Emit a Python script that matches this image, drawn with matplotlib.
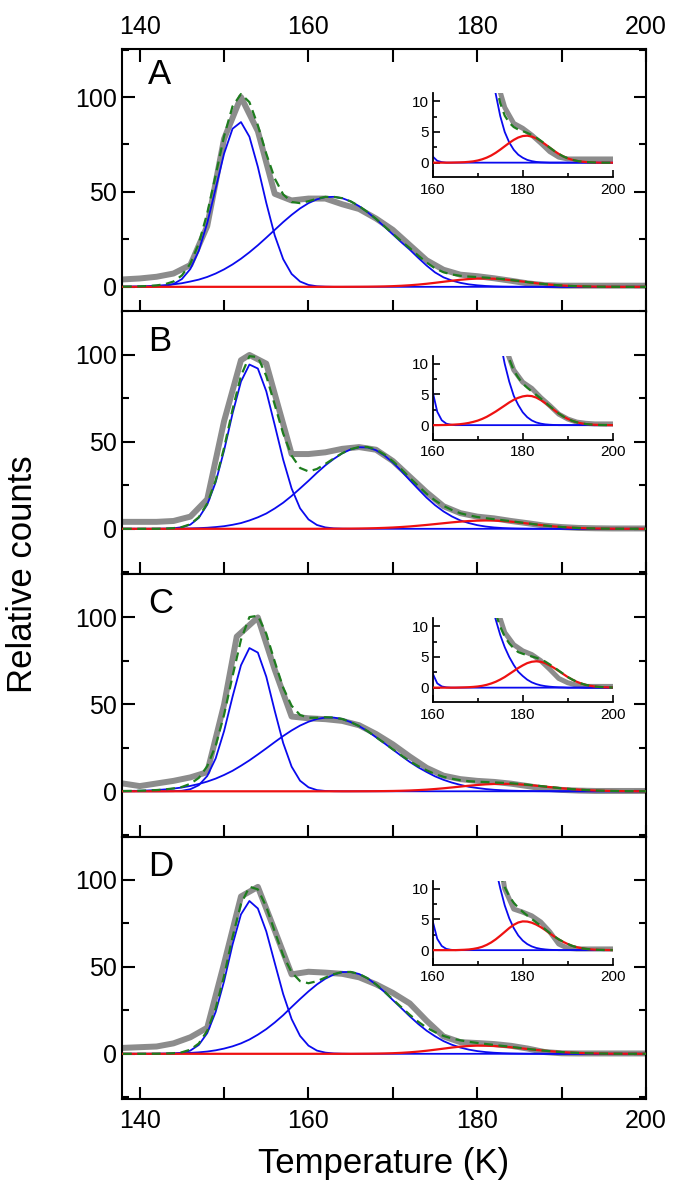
import numpy as np
import matplotlib
matplotlib.use('Agg')
import matplotlib.pyplot as plt
from matplotlib.ticker import MultipleLocator, FuncFormatter

plt.rcParams['font.family'] = ['Liberation Sans', 'DejaVu Sans']

# common temperature grid for the fitted components (K)
T = np.arange(138, 201)

# ---------------- panel A ----------------
tA = [138, 140, 142, 144, 146, 148, 150, 152, 154, 156, 158, 160, 162, 164, 166, 168,
      170, 172, 174, 176, 178, 180, 182, 184, 186, 188, 190, 192, 194, 196, 198, 200]
dataA = [3.9, 4.4, 5.3, 7.0, 11.5, 32, 78, 100, 82, 49, 45.5, 46.5, 46.5, 43.5, 41, 36,
         30, 22, 14, 9, 6.4, 5.6, 4.5, 3.2, 1.8, 0.9, 0.6, 0.6, 0.6, 0.6, 0.6, 0.6]
peak1A = [0, 0, 0, 0.04, 0.16, 0.5, 1.5, 4.1, 9.4, 19.0, 33.6, 51.8, 70.2, 83.3, 86.8, 79.1,
          63.2, 44.2, 27.1, 14.6, 6.8, 2.8, 1.0, 0.3, 0.09] + [0.0] * 38
peak2A = [0.1, 0.16, 0.25, 0.4, 0.6, 0.9, 1.3, 1.9, 2.8, 3.8, 5.2, 7.0, 9.2, 11.8, 14.8, 18.2,
          21.9, 25.9, 30.0, 34.1, 37.9, 41.3, 44.1, 46.1, 47.3, 47.4, 46.7, 45.0, 42.5, 39.3,
          35.7, 31.7, 27.6, 23.5, 19.6, 15.3, 11.2, 7.6, 5.0, 3.3, 2.1, 1.3, 0.8, 0.45, 0.25,
          0.12, 0.06, 0.03] + [0.0] * 15
peak3A = [0.0] * 27 + [0.02, 0.04, 0.07, 0.13, 0.21, 0.35, 0.55, 0.82, 1.17, 1.61, 2.12, 2.67,
                       3.22, 3.71, 4.10, 4.34, 4.40, 4.26, 3.96, 3.52, 3.0, 2.45, 1.91, 1.43,
                       1.02, 0.70, 0.46, 0.29, 0.18, 0.10, 0.06, 0.03, 0.01] + [0.0] * 3

# ---------------- panel B ----------------
tB = [138, 140, 142, 144, 146, 148, 150, 152, 153, 155, 158, 160, 162, 164, 166, 168,
      170, 172, 174, 176, 178, 180, 182, 184, 186, 188, 190, 192, 194, 196, 198, 200]
dataB = [4, 4, 4, 4.5, 7, 17, 62, 97, 100, 95, 43, 43, 44, 46, 47, 45.5,
         39, 30, 21, 13, 9, 7, 6, 4.5, 3.2, 1.8, 1.0, 0.5, 0.3, 0.2, 0.2, 0.2]
peak1B = [0.0] * 5 + [0.07, 0.3, 0.9, 2.4, 6.3, 13.9, 26.8, 45.1, 66.3, 84.7, 94.5, 92.2, 79.1,
                      59.7, 39.8, 23.2, 11.8, 5.4, 2.2, 0.8, 0.25, 0.07] + [0.0] * 36
peak2B = [0.0, 0.0, 0.0, 0.01, 0.02, 0.04, 0.07, 0.12, 0.22, 0.38, 0.62, 1.0, 1.5, 2.3, 3.3,
          4.8, 6.6, 8.8, 11.7, 15.0, 18.9, 23.2, 27.6, 32.2, 36.5, 40.2, 43.4, 45.7, 46.9,
          46.8, 45.2, 42.2, 38.1, 33.3, 28.0, 22.9, 17.9, 13.6, 10.0, 7.1, 4.8, 3.3, 2.1, 1.3,
          0.77, 0.44, 0.25, 0.13, 0.07, 0.03] + [0.0] * 13
peak3B = [0.0] * 24 + [0.02, 0.03, 0.06, 0.1, 0.15, 0.24, 0.36, 0.53, 0.74, 1.02, 1.36, 1.78,
                       2.22, 2.71, 3.2, 3.7, 4.13, 4.46, 4.69, 4.8, 4.74, 4.5, 4.1, 3.6, 3.03,
                       2.45, 1.9, 1.42, 1.02, 0.7, 0.47, 0.3, 0.18, 0.11, 0.06, 0.03, 0.02,
                       0.01, 0.0]

# ---------------- panel C ----------------
tC = [138, 140, 142, 144, 146, 148, 150, 151.5, 154, 156, 158, 160, 162, 164, 166, 168,
      170, 172, 174, 176, 178, 180, 182, 184, 186, 188, 190, 192, 194, 196, 198, 200]
dataC = [4.5, 3, 4.5, 6, 8, 11, 50, 89, 100, 70, 43, 42, 41.5, 40.5, 38, 33,
         27, 20, 13.5, 9, 7, 6, 5.4, 4.4, 3, 1.5, 0.8, 0.4, 0.2, 0.2, 0.2, 0.2]
peak1C = [0.0] * 5 + [0.02, 0.08, 0.3, 1.2, 3.5, 8.8, 18.9, 34.7, 54.4, 72.5, 82.4, 79.8, 65.9,
                      46.3, 27.8, 14.2, 6.1, 2.3, 0.7, 0.2, 0.05] + [0.0] * 37
peak2C = [0.13, 0.21, 0.32, 0.48, 0.72, 1.08, 1.57, 2.2, 3.1, 4.2, 5.6, 7.3, 9.4, 11.8, 14.7,
          17.8, 21.2, 24.7, 28.3, 31.8, 35.0, 37.8, 40.0, 41.6, 42.4, 42.4, 41.6, 39.8, 37.5,
          34.6, 31.1, 27.6, 24.0, 20.4, 16.9, 13.8, 11.1, 8.6, 6.6, 5.0, 3.7, 2.6, 1.9, 1.3,
          0.87, 0.58, 0.38, 0.25, 0.16, 0.1, 0.06, 0.04] + [0.0] * 11
peak3C = [0.0] * 28 + [0.02, 0.04, 0.07, 0.12, 0.19, 0.3, 0.46, 0.68, 0.96, 1.32, 1.73, 2.22,
                       2.71, 3.2, 3.63, 4.0, 4.22, 4.3, 4.22, 4.0, 3.63, 3.2, 2.71, 2.22, 1.73,
                       1.32, 0.96, 0.68, 0.46, 0.3, 0.19, 0.12, 0.07, 0.04, 0.02]

# ---------------- panel D ----------------
tD = [138, 142, 144, 146, 148, 150, 152, 154, 156, 158, 160, 162, 164, 166, 168,
      170, 172, 174, 176, 178, 180, 182, 184, 186, 188, 190, 192, 194, 196, 198, 200]
dataD = [3.4, 4.2, 6, 9.5, 15, 52, 90.5, 96, 71, 45.7, 47.2, 46.7, 46, 44, 40,
         35, 29, 19, 10, 6.7, 6.2, 5.6, 4.6, 3, 1.0, 0.3, 0.2, 0.2, 0.2, 0.2, 0.2]
peak1D = [0.0] * 5 + [0.04, 0.15, 0.56, 1.85, 5.1, 11.9, 24.1, 41.8, 62.8, 80.2, 87.9, 83.6, 70.4,
                      52.3, 34.4, 20.0, 10.3, 4.7, 1.85, 0.68, 0.21, 0.06] + [0.0] * 36
peak2D = [0.0, 0.01, 0.02, 0.03, 0.06, 0.11, 0.19, 0.32, 0.52, 0.84, 1.3, 2.0, 3.0, 4.3, 6.0,
          8.2, 11.0, 14.2, 18.0, 22.2, 26.9, 31.5, 35.9, 39.9, 43.2, 45.6, 47.0, 47.1, 45.9,
          43.4, 39.9, 35.6, 30.9, 26.3, 21.6, 17.2, 13.3, 10.1, 7.3, 5.2, 3.6, 2.4, 1.56, 0.99,
          0.61, 0.36, 0.21, 0.12, 0.06, 0.03] + [0.0] * 13
peak3D = [0.0] * 28 + [0.03, 0.06, 0.11, 0.2, 0.34, 0.55, 0.86, 1.26, 1.76, 2.35, 2.97, 3.6,
                       4.13, 4.51, 4.69, 4.66, 4.48, 4.17, 3.76, 3.28, 2.74, 2.23, 1.76, 1.35,
                       1.0, 0.7, 0.49, 0.33, 0.21, 0.13, 0.08, 0.05, 0.03, 0.02, 0.01]

letters = ['A', 'B', 'C', 'D']
panels = [(tA, dataA, peak1A, peak2A, peak3A),
          (tB, dataB, peak1B, peak2B, peak3B),
          (tC, dataC, peak1C, peak2C, peak3C),
          (tD, dataD, peak1D, peak2D, peak3D)]
# panel A is drawn on a slightly stretched count axis in the original
ylims = [(-13, 125.3), (-26, 125), (-26, 125), (-26, 125)]

grey = '#8c8c8c'
blue = '#0a0aee'
red = '#ee1111'
green = '#1e7d1e'


def draw_curves(ax, tdat, ydat, p1, p2, p3, small=False):
    fit = np.array(p1) + np.array(p2) + np.array(p3)
    ax.plot(tdat, ydat, color=grey, lw=3.6 if small else 4.3, zorder=1)
    ax.plot(T, p1, color=blue, lw=1.3, zorder=2)
    ax.plot(T, p2, color=blue, lw=1.3, zorder=2)
    ax.plot(T, p3, color=red, lw=1.6, zorder=3)
    ax.plot(T, fit, color=green, lw=1.6, ls=(0, (4, 2.5)), zorder=4)


def every20(v, pos):
    return '%d' % v if abs(v % 20) < 1e-6 else ''


W, H = 675.0, 1201.0
left_px, right_px, top_px, bot_px = 122, 646, 49, 1099
ph = (bot_px - top_px) / 4.0

fig = plt.figure(figsize=(6.75, 12.01), dpi=100)

for i, (tdat, ydat, p1, p2, p3) in enumerate(panels):
    y0 = 1 - (top_px + (i + 1) * ph) / H
    ax = fig.add_axes([left_px / W, y0, (right_px - left_px) / W, ph / H])
    draw_curves(ax, tdat, ydat, p1, p2, p3)
    ax.set_xlim(137.9, 200)
    ax.set_ylim(*ylims[i])
    for s in ax.spines.values():
        s.set_linewidth(1.5)
    ax.xaxis.set_major_locator(MultipleLocator(10))
    ax.xaxis.set_major_formatter(FuncFormatter(every20))
    ax.yaxis.set_major_locator(MultipleLocator(50))
    ax.yaxis.set_minor_locator(MultipleLocator(25))
    ax.tick_params(axis='both', which='major', direction='in', length=9, width=1.5,
                   labelsize=18, right=True)
    ax.tick_params(axis='y', which='minor', direction='in', length=5, width=1.5, right=True)
    ax.tick_params(axis='x', top=(i == 0), labeltop=(i == 0), labelbottom=(i == 3), pad=7)
    ax.text(0.05, 0.965 if i == 0 else 0.95, letters[i], transform=ax.transAxes,
            fontsize=25, va='top', ha='left')
    if i == 3:
        ax.set_xlabel('Temperature (K)', fontsize=25, labelpad=10)

    ins = ax.inset_axes([0.593, 0.511, 0.3435, 0.32])
    draw_curves(ins, tdat, ydat, p1, p2, p3, small=True)
    ins.set_xlim(160, 200)
    ins.set_ylim(-2.4, 11.3)
    ins.spines['top'].set_visible(False)
    ins.spines['right'].set_visible(False)
    for s in ['left', 'bottom']:
        ins.spines[s].set_linewidth(1.3)
    ins.xaxis.set_major_locator(MultipleLocator(20))
    ins.xaxis.set_minor_locator(MultipleLocator(10))
    ins.yaxis.set_major_locator(MultipleLocator(5))
    ins.yaxis.set_minor_locator(MultipleLocator(2.5))
    ins.tick_params(which='major', direction='in', length=5, width=1.2, labelsize=11, pad=3)
    ins.tick_params(axis='x', which='major', pad=4)
    ins.tick_params(which='minor', direction='in', length=3, width=1.2)

fig.text(0.033, 1 - (top_px + bot_px) / 2.0 / H, 'Relative counts', rotation=90,
         fontsize=25, ha='center', va='center')

fig.savefig('out.png', dpi=100)
